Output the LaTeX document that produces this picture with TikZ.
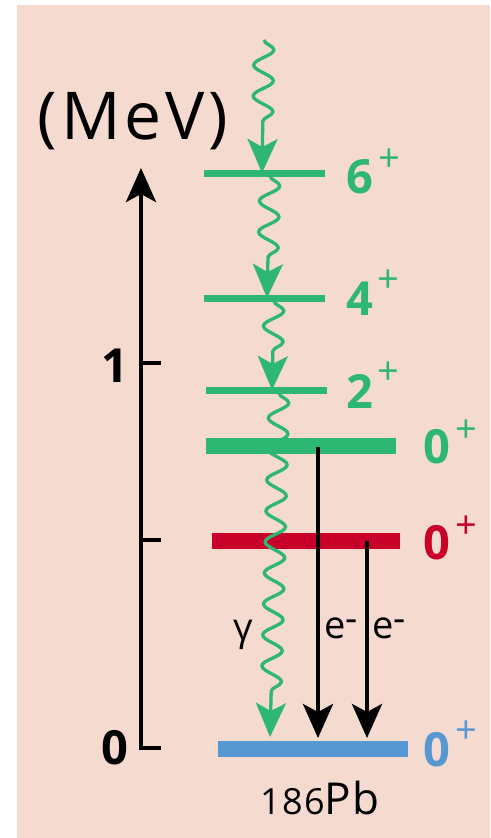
\documentclass[tikz,border=0pt]{standalone}
\usepackage{fontspec}
\setmainfont{Open Sans}
\usetikzlibrary{arrows.meta,decorations.pathmorphing}
\definecolor{bgpeach}{HTML}{F5DACF}
\definecolor{lgreen}{HTML}{2EB673}
\definecolor{lred}{HTML}{C8002A}
\definecolor{lblue}{HTML}{5698D2}
\begin{document}
\begin{tikzpicture}[x=1pt,y=-1pt,
  thinlevel/.style={line width=7pt, draw=lgreen},
  thicklevel/.style={line width=16pt},
  bighead/.style={-{Stealth[length=34pt,width=30pt,inset=8pt]}},
  wave/.style={draw=lgreen, line width=3.3pt, decorate,
    decoration={snake, amplitude=10pt, segment length=31pt, post length=37pt},
    bighead},
  earrow/.style={draw=black, line width=4pt, bighead},
  axisline/.style={draw=black, line width=4pt},
  digit/.style={font=\fontsize{47}{50}\selectfont\bfseries, anchor=base, inner sep=0pt},
  plus/.style={font=\fontsize{38}{40}\selectfont, inner sep=0pt},
  lbl/.style={font=\fontsize{38}{42}\selectfont, anchor=base, inner sep=0pt}
]
\useasboundingbox (0,0) rectangle (490,838);
\fill[white] (0,0) rectangle (490,838);
\fill[bgpeach] (17,5) rectangle (490,838);

% axis
\coordinate (t0) at (161,748);
\coordinate (a0) at (141,748);
\coordinate (atop) at (141,168);
\coordinate (t1a) at (141,363);
\coordinate (t1b) at (161,363);
\coordinate (thalfa) at (141,540);
\coordinate (thalfb) at (161,540);
\draw[axisline, bighead] (t0) -- (a0) -- (atop);
\draw[axisline] (t1a) -- (t1b);
\draw[axisline] (thalfa) -- (thalfb);
\node (mev) at (133,121) {\fontsize{66}{70}\selectfont\addfontfeature{LetterSpace=6}(MeV)};
\node[digit] (one) at (115,382) {1};
\node[digit] (zero) at (115,764) {0};

% levels
\coordinate (L6a) at (204,173); \coordinate (L6b) at (325,173);
\coordinate (L4a) at (204,298); \coordinate (L4b) at (325,298);
\coordinate (L2a) at (206,390); \coordinate (L2b) at (327,390);
\coordinate (G0a) at (206,446); \coordinate (G0b) at (396,446);
\coordinate (R0a) at (212,541); \coordinate (R0b) at (400,541);
\coordinate (B0a) at (218,749); \coordinate (B0b) at (408,749);
\draw[thinlevel] (L6a) -- (L6b);
\draw[thinlevel] (L4a) -- (L4b);
\draw[thinlevel] (L2a) -- (L2b);
\draw[thicklevel, draw=lgreen] (G0a) -- (G0b);
\draw[thicklevel, draw=lred] (R0a) -- (R0b);
\draw[thicklevel, draw=lblue] (B0a) -- (B0b);

% level labels
\node[digit, text=lgreen] (s6) at (360,193) {6};
\node[plus, text=lgreen] (p6) at (389,160) {+};
\node[digit, text=lgreen] (s4) at (360,315) {4};
\node[plus, text=lgreen] (p4) at (388,281) {+};
\node[digit, text=lgreen] (sg2) at (360,408) {2};
\node[plus, text=lgreen] (p2) at (388,373) {+};
\node[digit, text=lgreen] (sg0) at (437,463) {0};
\node[plus, text=lgreen] (pg0) at (466,431) {+};
\node[digit, text=lred] (sr0) at (437,559) {0};
\node[plus, text=lred] (pr0) at (466,527) {+};
\node[digit, text=lblue] (sb0) at (437,766) {0};
\node[plus, text=lblue] (pb0) at (466,732) {+};

% gamma cascade
\coordinate (wstart) at (264,40);
\coordinate (w6) at (262,173);
\coordinate (w6s) at (270,176);
\coordinate (w4) at (267,298);
\coordinate (w4s) at (274,301);
\coordinate (w2) at (272,390);
\coordinate (w2s) at (279,393);
\coordinate (wg) at (270,737);
\draw[wave] (wstart) -- (w6);
\draw[wave] (w6s) -- (w4);
\draw[wave] (w4s) -- (w2);
\draw[wave] (w2s) -- (wg);

% conversion electrons
\coordinate (e1s) at (318,447); \coordinate (e1t) at (318,738);
\coordinate (e2s) at (367,541); \coordinate (e2t) at (367,738);
\draw[earrow] (e1s) -- (e1t);
\draw[earrow] (e2s) -- (e2t);

\node[lbl] (gam) at (243,640) {γ};
\node[lbl, anchor=base west] (el1) at (324,638) {e\raisebox{0.17em}{-}};
\node[lbl, anchor=base west] (el2) at (372,638) {e\raisebox{0.17em}{-}};

\node[anchor=base, inner sep=0pt] (pb) at (320,814) {\addfontfeature{LetterSpace=4}{\fontsize{36}{38}\selectfont 186}{\fontsize{44}{46}\selectfont Pb}};
\end{tikzpicture}
\end{document}
